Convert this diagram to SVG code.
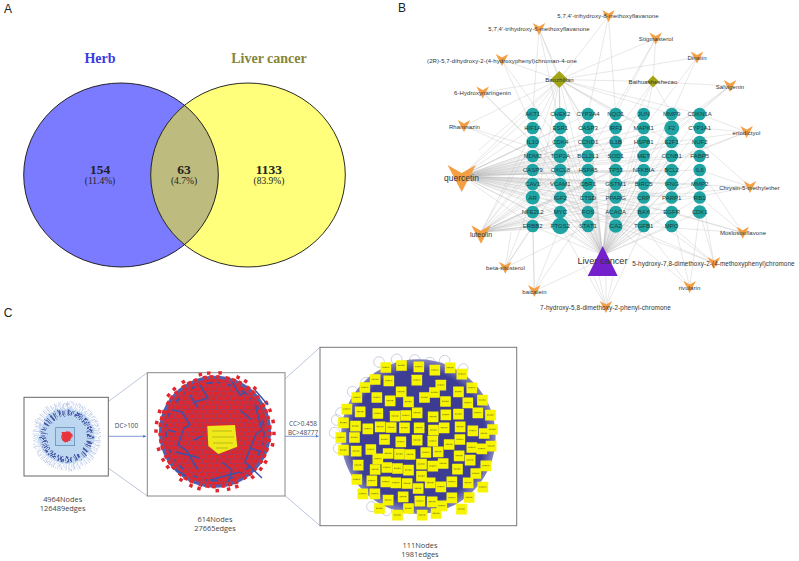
<svg xmlns="http://www.w3.org/2000/svg" width="799" height="561" viewBox="0 0 799 561">
<style>
text{font-family:"Liberation Sans",Arial,sans-serif;text-anchor:middle;fill:#333}
.panel{font-size:12px;fill:#222}
.v{font-family:"Liberation Serif",serif;font-weight:bold;fill:#222}
.n{font-size:13.5px}.p{font-size:9.5px;font-weight:normal}
.t{font-size:6px;fill:#1d3b3b}.h{font-size:6px;letter-spacing:.08px}
.cap{font-family:"Open Sans",sans-serif;font-size:7.4px;fill:#444}
.lab{font-family:"Open Sans",sans-serif;font-size:6.4px;fill:#445}
.e{fill:none;stroke:#b8b8b8;stroke-width:.45;stroke-opacity:.72}
.tn{fill:#1fa3a3}.vee{fill:#f59f45}.dm{fill:#a3a517}
.box{fill:#fff;stroke:#666;stroke-width:1}
.zoomline{stroke:#9fadcb;stroke-width:.7;fill:none}
.arr{stroke:#4472c4;stroke-width:.7;fill:none;marker-end:url(#ah)}
</style>
<defs>
<marker id="ah" markerWidth="5" markerHeight="5" refX="4" refY="2" orient="auto"><path d="M0 0L4 2L0 4z" fill="#4472c4"/></marker>
<polygon id="veeS" class="vee" points="-6.3,-6 0,-2.4 6.3,-6 0,6"/>
<g id="y"><rect x="-15.500" y="-15.500" width="32" height="32" rx="1" fill="#f7f400"/><path d="M-10 0H11" stroke="#88881c" stroke-width="3" stroke-dasharray="3 1"/></g>
<pattern id="reds" width="7" height="9" patternUnits="userSpaceOnUse"><rect width="7" height="9" fill="#a93b58"/><rect x=".3" y=".4" width="5.6" height="3.5" fill="#e0262c"/><rect x="3.8" y="4.9" width="5.6" height="3.5" fill="#e0262c"/><rect x="-3.200" y="4.9" width="5.6" height="3.5" fill="#e0262c"/></pattern>
<radialGradient id="blob"><stop offset="0" stop-color="#38388f"/><stop offset=".86" stop-color="#3e3e96"/><stop offset="1" stop-color="#8585bf"/></radialGradient>
<filter id="rough" x="-20%" y="-20%" width="140%" height="140%"><feTurbulence type="fractalNoise" baseFrequency=".22" numOctaves="2" seed="4" result="n"/><feDisplacementMap in="SourceGraphic" in2="n" scale="5"/><feGaussianBlur stdDeviation=".3"/></filter>
<filter id="soft" x="-5%" y="-5%" width="110%" height="110%"><feGaussianBlur stdDeviation=".35"/></filter>
</defs>

<g id="panel-a">
<text class="panel" x="8" y="13">A</text>
<ellipse cx="121" cy="175" rx="97.3" ry="92" fill="#7b7bff"/>
<ellipse cx="248" cy="175" rx="97.3" ry="92" fill="#ffff7b"/>
<path d="M184.500 105.100A97.300 92 0 0 1 184.500 244.900A97.300 92 0 0 1 184.500 105.100z" fill="#bdbb7d"/>
<ellipse cx="121" cy="175" rx="97.300" ry="92" fill="none" stroke="#111" stroke-width=".9"/>
<ellipse cx="248" cy="175" rx="97.300" ry="92" fill="none" stroke="#111" stroke-width=".9"/>
<text class="v" x="100" y="63" font-size="14" style="fill:#3a3ae0">Herb</text>
<text class="v" x="269" y="63" font-size="14" style="fill:#85853a">Liver cancer</text>
<text class="v n" x="100" y="174">154</text><text class="v p" x="100" y="184">(11.4%)</text>
<text class="v n" x="184" y="174">63</text><text class="v p" x="184" y="184">(4.7%)</text>
<text class="v n" x="269" y="174">1133</text><text class="v p" x="269" y="184">(83.9%)</text>
</g>

<text class="panel" x="402" y="12">B</text>
<g id="connectors-network">
<path class="e" d="M602.700 255L532.700 114M602.700 255L560.300 114M602.700 255L588 114M602.700 255L615.700 114M602.700 255L643.700 114M602.700 255L671.700 114M602.700 255L699.700 114M602.700 255L532.700 128M602.700 255L560.300 128M602.700 255L588 128M602.700 255L615.700 128M602.700 255L643.700 128M602.700 255L671.700 128M602.700 255L699.700 128M602.700 255L532.700 142M602.700 255L560.300 142M602.700 255L588 142M602.700 255L615.700 142M602.700 255L643.700 142M602.700 255L671.700 142M602.700 255L699.700 142M602.700 255L532.700 156M602.700 255L560.300 156M602.700 255L588 156M602.700 255L615.700 156M602.700 255L643.700 156M602.700 255L671.700 156M602.700 255L699.700 156M602.700 255L532.700 170M602.700 255L560.300 170M602.700 255L588 170M602.700 255L615.700 170M602.700 255L643.700 170M602.700 255L671.700 170M602.700 255L699.700 170M602.700 255L532.700 184M602.700 255L560.300 184M602.700 255L588 184M602.700 255L615.700 184M602.700 255L643.700 184M602.700 255L671.700 184M602.700 255L699.700 184M602.700 255L532.700 197.500M602.700 255L560.300 197.500M602.700 255L588 197.500M602.700 255L615.700 197.500M602.700 255L643.700 197.500M602.700 255L671.700 197.500M602.700 255L699.700 197.500M602.700 255L532.700 212M602.700 255L560.300 212M602.700 255L588 212M602.700 255L615.700 212M602.700 255L643.700 212M602.700 255L671.700 212M602.700 255L699.700 212M602.700 255L532.700 226M602.700 255L560.300 226M602.700 255L588 226M602.700 255L615.700 226M602.700 255L643.700 226M602.700 255L671.700 226"/>
<path class="e" d="M461.700 176L532.700 114M461.700 176L560.300 128M461.700 176L588 114M461.700 176L615.700 128M461.700 176L643.700 114M461.700 176L671.700 128M461.700 176L699.700 114M461.700 176L532.700 128M461.700 176L532.700 142M461.700 176L560.300 142M461.700 176L588 142M461.700 176L615.700 142M461.700 176L643.700 142M461.700 176L671.700 142M461.700 176L699.700 142M461.700 176L532.700 156M461.700 176L560.300 156M461.700 176L588 156M461.700 176L615.700 156M461.700 176L643.700 156M461.700 176L671.700 156M461.700 176L699.700 156M461.700 176L532.700 170M461.700 176L560.300 170M461.700 176L588 170M461.700 176L615.700 170M461.700 176L643.700 170M461.700 176L671.700 170M461.700 176L699.700 170M461.700 176L532.700 184M461.700 176L560.300 184M461.700 176L588 184M461.700 176L615.700 184M461.700 176L643.700 184M461.700 176L671.700 184M461.700 176L699.700 184M461.700 176L532.700 197.500M461.700 176L560.300 197.500M461.700 176L588 197.500M461.700 176L615.700 197.500M461.700 176L643.700 197.500M461.700 176L671.700 197.500M461.700 176L699.700 197.500M461.700 176L532.700 212M461.700 176L560.300 212M461.700 176L588 212M461.700 176L615.700 212M461.700 176L643.700 212M461.700 176L671.700 212M461.700 176L532.700 226M461.700 176L560.300 226M461.700 176L588 226M461.700 176L615.700 226M461.700 176L643.700 226"/>
<path class="e" d="M481 232L532.700 142M481 232L560.300 128M481 232L532.700 170M481 232L560.300 170M481 232L588 156M481 232L615.700 170M481 232L643.700 156M481 232L671.700 170M481 232L532.700 184M481 232L560.300 184M481 232L588 184M481 232L615.700 197.500M481 232L643.700 184M481 232L532.700 197.500M481 232L560.300 197.500M481 232L588 212M481 232L643.700 212M481 232L532.700 212M481 232L560.300 212M481 232L532.700 226M481 232L560.300 226M481 232L588 226M481 232L671.700 212M481 232L699.700 184"/>
<path class="e" d="M559.300 79.500L532.700 114M559.300 79.500L560.300 114M559.300 79.500L588 128M559.300 79.500L615.700 114M559.300 79.500L643.700 128M559.300 79.500L671.700 114M559.300 79.500L699.700 114M559.300 79.500L532.700 156M559.300 79.500L560.300 184M559.300 79.500L588 197.500M559.300 79.500L615.700 170M559.300 79.500L532.700 226M559.300 79.500L560.300 226M559.300 79.500L479 150M559.300 79.500L461.700 176M559.300 79.500L653 81.500M559.300 79.500L502 60M559.300 79.500L539 29M559.300 79.500L608.500 16M559.300 79.500L655.700 38.500M559.300 79.500L697 57.500M559.300 79.500L482.700 92.500M559.300 79.500L464 126M559.300 79.500L481 232M559.300 79.500L671.700 142"/>
<path class="e" d="M653 81.500L655.700 38.500M653 81.500L730 86M653 81.500L643.700 128M653 81.500L615.700 156M653 81.500L671.700 114M653 81.500L588 170"/>
<path class="e" d="M608.500 16L588 114M608.500 16L615.700 114M539 29L532.700 114M539 29L560.300 128M539 29L588 142M655.700 38.500L615.700 114M655.700 38.500L588 156M697 57.500L643.700 128M697 57.500L671.700 114M502 60L532.700 128M502 60L560.300 142M730 86L671.700 128M730 86L643.700 156M730 86L615.700 184M482.700 92.500L532.700 142M482.700 92.500L560.300 170M464 126L532.700 156M464 126L560.300 156M746.700 132L699.700 114M746.700 132L699.700 128M746.700 132L671.700 142M746.700 132L643.700 170M746.700 132L615.700 184"/>
<path class="e" d="M750 187L699.700 170M750 187L671.700 184M750 187L643.700 197.500M750 187L615.700 212M750 187L699.700 142M742.700 232.700L699.700 197.500M742.700 232.700L671.700 212M742.700 232.700L643.700 226M742.700 232.700L699.700 170M742.700 232.700L615.700 197.500M714 263L699.700 212M714 263L671.700 226M714 263L643.700 212M714 263L615.700 226M714 263L699.700 184M714 263L560.300 197.500M689.700 287L699.700 212M689.700 287L671.700 212M689.700 287L643.700 226M689.700 287L615.700 226"/>
<path class="e" d="M606 307L592 272M606 307L598 272M606 307L606 272M606 307L614 272M606 307L560.300 226M606 307L643.700 226M534.300 291L532.700 226M534.300 291L560.300 226M534.300 291L588 212M534.300 291L596 262M534.300 291L532.700 212M505.300 267.700L532.700 197.500M505.300 267.700L532.700 226M505.300 267.700L560.300 184M505.300 267.700L588 226M505.300 267.700L511 232"/>
</g>

<g id="target-nodes">
<g id="n-AKT1"><circle class="tn" cx="532.700" cy="114" r="6.300"/><text class="t" x="532.700" y="116">AKT1</text></g>
<g id="n-CHEK2"><circle class="tn" cx="560.300" cy="114" r="6.300"/><text class="t" x="560.300" y="116">CHEK2</text></g>
<g id="n-CYP3A4"><circle class="tn" cx="588" cy="114" r="6.300"/><text class="t" x="588" y="116">CYP3A4</text></g>
<g id="n-NQO1"><circle class="tn" cx="615.700" cy="114" r="6.300"/><text class="t" x="615.700" y="116">NQO1</text></g>
<g id="n-JUN"><circle class="tn" cx="643.700" cy="114" r="6.300"/><text class="t" x="643.700" y="116">JUN</text></g>
<g id="n-MMP9"><circle class="tn" cx="671.700" cy="114" r="6.300"/><text class="t" x="671.700" y="116">MMP9</text></g>
<g id="n-CDKN1A"><circle class="tn" cx="699.700" cy="114" r="6.300"/><text class="t" x="699.700" y="116">CDKN1A</text></g>
<g id="n-HIF1A"><circle class="tn" cx="532.700" cy="128" r="6.300"/><text class="t" x="532.700" y="130">HIF1A</text></g>
<g id="n-ESR1"><circle class="tn" cx="560.300" cy="128" r="6.300"/><text class="t" x="560.300" y="130">ESR1</text></g>
<g id="n-CASP3"><circle class="tn" cx="588" cy="128" r="6.300"/><text class="t" x="588" y="130">CASP3</text></g>
<g id="n-IRF1"><circle class="tn" cx="615.700" cy="128" r="6.300"/><text class="t" x="615.700" y="130">IRF1</text></g>
<g id="n-MAPK1"><circle class="tn" cx="643.700" cy="128" r="6.300"/><text class="t" x="643.700" y="130">MAPK1</text></g>
<g id="n-F2"><circle class="tn" cx="671.700" cy="128" r="7.500"/><text class="t" x="671.700" y="130">F2</text></g>
<g id="n-CYP1A1"><circle class="tn" cx="699.700" cy="128" r="6.300"/><text class="t" x="699.700" y="130">CYP1A1</text></g>
<g id="n-IL10"><circle class="tn" cx="532.700" cy="142" r="6.300"/><text class="t" x="532.700" y="144">IL10</text></g>
<g id="n-CDK4"><circle class="tn" cx="560.300" cy="142" r="6.300"/><text class="t" x="560.300" y="144">CDK4</text></g>
<g id="n-CCND1"><circle class="tn" cx="588" cy="142" r="6.300"/><text class="t" x="588" y="144">CCND1</text></g>
<g id="n-IL1B"><circle class="tn" cx="615.700" cy="142" r="6.300"/><text class="t" x="615.700" y="144">IL1B</text></g>
<g id="n-HSPB1"><circle class="tn" cx="643.700" cy="142" r="6.300"/><text class="t" x="643.700" y="144">HSPB1</text></g>
<g id="n-E2F1"><circle class="tn" cx="671.700" cy="142" r="6.300"/><text class="t" x="671.700" y="144">E2F1</text></g>
<g id="n-NUF2"><circle class="tn" cx="699.700" cy="142" r="6.300"/><text class="t" x="699.700" y="144">NUF2</text></g>
<g id="n-MDM2"><circle class="tn" cx="532.700" cy="156" r="6.300"/><text class="t" x="532.700" y="158">MDM2</text></g>
<g id="n-TOP2A"><circle class="tn" cx="560.300" cy="156" r="7"/><text class="t" x="560.300" y="158">TOP2A</text></g>
<g id="n-BCL2L1"><circle class="tn" cx="588" cy="156" r="6.300"/><text class="t" x="588" y="158">BCL2L1</text></g>
<g id="n-SOD1"><circle class="tn" cx="615.700" cy="156" r="6.300"/><text class="t" x="615.700" y="158">SOD1</text></g>
<g id="n-MET"><circle class="tn" cx="643.700" cy="156" r="6.300"/><text class="t" x="643.700" y="158">MET</text></g>
<g id="n-CCNB1"><circle class="tn" cx="671.700" cy="156" r="6.300"/><text class="t" x="671.700" y="158">CCNB1</text></g>
<g id="n-FABP5"><circle class="tn" cx="699.700" cy="156" r="6.300"/><text class="t" x="699.700" y="158">FABP5</text></g>
<g id="n-CASP9"><circle class="tn" cx="532.700" cy="170" r="6.300"/><text class="t" x="532.700" y="172">CASP9</text></g>
<g id="n-CXCL8"><circle class="tn" cx="560.300" cy="170" r="6.300"/><text class="t" x="560.300" y="172">CXCL8</text></g>
<g id="n-HSPA5"><circle class="tn" cx="588" cy="170" r="6.300"/><text class="t" x="588" y="172">HSPA5</text></g>
<g id="n-TP53"><circle class="tn" cx="615.700" cy="170" r="6.300"/><text class="t" x="615.700" y="172">TP53</text></g>
<g id="n-NFKBIA"><circle class="tn" cx="643.700" cy="170" r="6.300"/><text class="t" x="643.700" y="172">NFKBIA</text></g>
<g id="n-BCL2"><circle class="tn" cx="671.700" cy="170" r="6.300"/><text class="t" x="671.700" y="172">BCL2</text></g>
<g id="n-IL6"><circle class="tn" cx="699.700" cy="170" r="6.300"/><text class="t" x="699.700" y="172">IL6</text></g>
<g id="n-CAV1"><circle class="tn" cx="532.700" cy="184" r="6.300"/><text class="t" x="532.700" y="186">CAV1</text></g>
<g id="n-VCAM1"><circle class="tn" cx="560.300" cy="184" r="6.300"/><text class="t" x="560.300" y="186">VCAM1</text></g>
<g id="n-CBR1"><circle class="tn" cx="588" cy="184" r="6.300"/><text class="t" x="588" y="186">CBR1</text></g>
<g id="n-GSTM1"><circle class="tn" cx="615.700" cy="184" r="6.300"/><text class="t" x="615.700" y="186">GSTM1</text></g>
<g id="n-BIRC5"><circle class="tn" cx="643.700" cy="184" r="6.300"/><text class="t" x="643.700" y="186">BIRC5</text></g>
<g id="n-IFNG"><circle class="tn" cx="671.700" cy="184" r="6.300"/><text class="t" x="671.700" y="186">IFNG</text></g>
<g id="n-MMP2"><circle class="tn" cx="699.700" cy="184" r="6.300"/><text class="t" x="699.700" y="186">MMP2</text></g>
<g id="n-AR"><circle class="tn" cx="532.700" cy="197.500" r="7"/><text class="t" x="532.700" y="199.500">AR</text></g>
<g id="n-IGF2"><circle class="tn" cx="560.300" cy="197.500" r="6.300"/><text class="t" x="560.300" y="199.500">IGF2</text></g>
<g id="n-CTSD"><circle class="tn" cx="588" cy="197.500" r="6.300"/><text class="t" x="588" y="199.500">CTSD</text></g>
<g id="n-PPARG"><circle class="tn" cx="615.700" cy="197.500" r="6.300"/><text class="t" x="615.700" y="199.500">PPARG</text></g>
<g id="n-CRP"><circle class="tn" cx="643.700" cy="197.500" r="6.300"/><text class="t" x="643.700" y="199.500">CRP</text></g>
<g id="n-PARP1"><circle class="tn" cx="671.700" cy="197.500" r="6.300"/><text class="t" x="671.700" y="199.500">PARP1</text></g>
<g id="n-RB1"><circle class="tn" cx="699.700" cy="197.500" r="6.300"/><text class="t" x="699.700" y="199.500">RB1</text></g>
<g id="n-NFE2L2"><circle class="tn" cx="532.700" cy="212" r="6.300"/><text class="t" x="532.700" y="214">NFE2L2</text></g>
<g id="n-MYC"><circle class="tn" cx="560.300" cy="212" r="6.300"/><text class="t" x="560.300" y="214">MYC</text></g>
<g id="n-FOS"><circle class="tn" cx="588" cy="212" r="6.300"/><text class="t" x="588" y="214">FOS</text></g>
<g id="n-ACACA"><circle class="tn" cx="615.700" cy="212" r="6.300"/><text class="t" x="615.700" y="214">ACACA</text></g>
<g id="n-BAX"><circle class="tn" cx="643.700" cy="212" r="6.300"/><text class="t" x="643.700" y="214">BAX</text></g>
<g id="n-EGFR"><circle class="tn" cx="671.700" cy="212" r="6.300"/><text class="t" x="671.700" y="214">EGFR</text></g>
<g id="n-CDK1"><circle class="tn" cx="699.700" cy="212" r="6.800"/><text class="t" x="699.700" y="214">CDK1</text></g>
<g id="n-ERBB2"><circle class="tn" cx="532.700" cy="226" r="6.300"/><text class="t" x="532.700" y="228">ERBB2</text></g>
<g id="n-PTGS2"><circle class="tn" cx="560.300" cy="226" r="8.300"/><text class="t" x="560.300" y="228">PTGS2</text></g>
<g id="n-STAT1"><circle class="tn" cx="588" cy="226" r="6.300"/><text class="t" x="588" y="228">STAT1</text></g>
<g id="n-CA2"><circle class="tn" cx="615.700" cy="226" r="6.800"/><text class="t" x="615.700" y="228">CA2</text></g>
<g id="n-TGFB1"><circle class="tn" cx="643.700" cy="226" r="6.300"/><text class="t" x="643.700" y="228">TGFB1</text></g>
<g id="n-MPO"><circle class="tn" cx="671.700" cy="226" r="6.300"/><text class="t" x="671.700" y="228">MPO</text></g>
</g>

<g id="herb-nodes">
<g id="h1"><use href="#veeS" x="608.500" y="16"/><text class="h" x="608" y="18">5,7,4'-trihydroxy-8-methoxyflavanone</text></g>
<g id="h2"><use href="#veeS" x="539" y="29"/><text class="h" x="539" y="31">5,7,4'-trihydroxy-6-methoxyflavanone</text></g>
<g id="h3"><use href="#veeS" x="655.700" y="38.500"/><text class="h" x="656" y="41">Stigmasterol</text></g>
<g id="h4"><use href="#veeS" x="697" y="57.500"/><text class="h" x="697" y="60">Dinatin</text></g>
<g id="h5"><use href="#veeS" x="502" y="60"/><text class="h" x="502" y="62.500">(2R)-5,7-dihydroxy-2-(4-hydroxyphenyl)chroman-4-one</text></g>
<g id="h6"><polygon class="dm" points="559.300,71 568,79.500 559.300,88 550.600,79.500"/><text class="h" x="559.500" y="82">Banzhilian</text></g>
<g id="h7"><polygon class="dm" points="653,75.500 659,81.500 653,87.500 647,81.500"/><text class="h" x="653" y="84">Baihuasheshecao</text></g>
<g id="h8"><use href="#veeS" x="730" y="86"/><text class="h" x="730" y="88.500">Salvigenin</text></g>
<g id="h9"><use href="#veeS" x="482.700" y="92.500"/><text class="h" x="482.500" y="95">6-Hydroxynaringenin</text></g>
<g id="h10"><use href="#veeS" x="464" y="126"/><text class="h" x="464.500" y="128.500">Rhamnazin</text></g>
<g id="h11"><use href="#veeS" x="746.700" y="132"/><text class="h" x="746.500" y="134.500">eriodictyol</text></g>
<g id="h12"><use href="#veeS" transform="translate(461.700 178.500) scale(2.250)"/><text x="461.500" y="181" font-size="8.500">quercetin</text></g>
<g id="h13"><use href="#veeS" x="750" y="187"/><text class="h" x="749.500" y="189.500">Chrysin-5-methylether</text></g>
<g id="h14"><use href="#veeS" x="742.700" y="232.700"/><text class="h" x="743" y="235">Moslosooflavone</text></g>
<g id="h15"><use href="#veeS" transform="translate(481 234.500) scale(1.550)"/><text x="481" y="237" font-size="7">luteolin</text></g>
<g id="h16"><use href="#veeS" x="505.300" y="267.700"/><text class="h" x="505.500" y="270">beta-sitosterol</text></g>
<g id="h17"><use href="#veeS" x="714" y="263"/><text class="h" x="713.500" y="265.500" style="font-size:6.350px">5-hydroxy-7,8-dimethoxy-2-(4-methoxyphenyl)chromone</text></g>
<g id="h18"><use href="#veeS" x="689.700" y="287"/><text class="h" x="689.500" y="289.500">rivularin</text></g>
<g id="h19"><use href="#veeS" x="534.300" y="291"/><text class="h" x="534.500" y="293.500">baicalein</text></g>
<g id="h20"><use href="#veeS" x="606" y="307"/><text class="h" x="605.500" y="309.500" style="font-size:6.400px">7-hydroxy-5,8-dimethoxy-2-phenyl-chromone</text></g>
<g id="liver"><polygon points="602.700,246 617.700,276 587.700,276" fill="#7420cc"/><text x="602.500" y="264" font-size="9.200">Liver cancer</text></g>
</g>

<text class="panel" x="8" y="317">C</text>
<g id="connectors-c">
<path class="zoomline" d="M90 415L147.300 372.700M90 455L147.300 496M261.700 400L320 347.300M263 476.700L320 525.700"/>
<path class="arr" d="M108.300 436.300H146"/>
<path class="arr" d="M285 436.300H318.500"/>
</g>
<g id="net-1">
<rect class="box" x="24" y="397.300" width="84.300" height="78.700"/>
<g filter="url(#rough)">
<circle cx="66.700" cy="436" r="29" fill="none" stroke="#c0cdea" stroke-width="11" stroke-dasharray=".9 .9 .5 1.500"/>
<circle cx="66.700" cy="436" r="28" fill="#bcd7ef"/>
<circle cx="66.700" cy="436" r="23.500" fill="none" stroke="#4a56a6" stroke-width="6" stroke-dasharray="1.200 1 .6 2.600 1.800 1.600"/>
</g>
<rect x="55.700" y="427.700" width="19" height="18" fill="#b5d3ee" stroke="#4a78a8" stroke-width=".6"/>
<circle cx="67" cy="437" r="5.800" fill="#e8353c" filter="url(#rough)"/>
<text class="cap" x="62.700" y="501.500">4964Nodes</text>
<text class="cap" x="62.700" y="510.500">126489edges</text>
<text class="lab" x="126.500" y="428">DC&gt;100</text>
</g>
<g id="net-2">
<rect class="box" x="147.300" y="372.700" width="137.700" height="123.300" stroke-width="1.300" style="stroke:#888"/>
<g filter="url(#soft)">
<circle cx="215" cy="431.700" r="56" fill="#5060b0"/>
<circle cx="215" cy="431.700" r="53" fill="url(#reds)"/>
<circle cx="215" cy="431.700" r="49" fill="none" stroke="#3f51a8" stroke-width="1.800" stroke-dasharray="6 5 2 8 4 12"/>
<circle cx="215" cy="431.700" r="55" fill="none" stroke="#e1282e" stroke-width="3.500" stroke-dasharray="4 3 3.500 6 4 2.500"/>
<circle cx="215" cy="431.700" r="59" fill="none" stroke="#e1282e" stroke-width="3.500" stroke-dasharray="3.500 8 3.500 15 3.500 5"/>
<path d="M172 410L182 412L190 425L184 428L178 445L186 450L198 470M255 405L262 430L256 434L245 462L262 478M200 385L208 398L195 402M232 382L240 395L246 392M176 452L200 458M210 480L240 472M255 390L268 405M168 430L176 432M190 395L198 408M240 410L252 420M222 462L232 470L228 482M194 440L202 436M250 448L262 452M176 470L186 476" fill="none" stroke="#3f51a8" stroke-width="1.500"/>
<polygon points="207.300,426 235,425 237.300,446.700 218.300,454 208.300,446" fill="#efe91a"/>
<path d="M212 431H232M212 437H234M213 443H233M216 448H228" stroke="#6f6f10" stroke-width=".4"/>
</g>
<text class="cap" x="215" y="521.500">614Nodes</text>
<text class="cap" x="215" y="530.500">27665edges</text>
<text class="lab" x="303" y="426">CC&gt;0.458</text>
<text class="lab" x="303" y="435">BC&gt;48777</text>
</g>
<g id="net-3">
<rect class="box" x="320" y="347.300" width="196.700" height="178.400" style="stroke:#777"/>
<g transform="translate(290 340) scale(.3333)" filter="url(#soft)">
<g fill="none" stroke="#b4b8d0" stroke-width="2">
<circle cx="267" cy="66" r="16"/><circle cx="320" cy="58" r="16"/><circle cx="374" cy="60" r="16"/><circle cx="420" cy="68" r="16"/><circle cx="464" cy="62" r="16"/><circle cx="228" cy="128" r="16"/><circle cx="188" cy="155" r="16"/><circle cx="152" cy="218" r="15"/><circle cx="140" cy="240" r="16"/><circle cx="134" cy="278" r="16"/><circle cx="145" cy="325" r="15"/><circle cx="245" cy="500" r="15"/><circle cx="290" cy="512" r="15"/><circle cx="520" cy="85" r="14"/>
</g>
<circle cx="385" cy="290" r="232" fill="url(#blob)"/>
<use href="#y" x="287" y="82"/><use href="#y" x="334" y="76"/><use href="#y" x="386" y="80"/><use href="#y" x="434" y="90"/><use href="#y" x="480" y="83"/><use href="#y" x="515" y="102"/><use href="#y" x="255" y="118"/><use href="#y" x="296" y="122"/><use href="#y" x="380" y="120"/><use href="#y" x="224" y="142"/><use href="#y" x="452" y="135"/><use href="#y" x="545" y="143"/><use href="#y" x="333" y="155"/><use href="#y" x="433" y="157"/><use href="#y" x="505" y="155"/><use href="#y" x="200" y="172"/><use href="#y" x="260" y="172"/><use href="#y" x="300" y="182"/><use href="#y" x="355" y="185"/><use href="#y" x="403" y="172"/><use href="#y" x="466" y="184"/><use href="#y" x="533" y="188"/><use href="#y" x="577" y="180"/><use href="#y" x="170" y="207"/><use href="#y" x="210" y="215"/><use href="#y" x="263" y="220"/><use href="#y" x="315" y="228"/><use href="#y" x="347" y="226"/><use href="#y" x="381" y="218"/><use href="#y" x="429" y="230"/><use href="#y" x="467" y="224"/><use href="#y" x="505" y="222"/><use href="#y" x="563" y="218"/><use href="#y" x="601" y="225"/><use href="#y" x="160" y="248"/><use href="#y" x="196" y="258"/><use href="#y" x="233" y="266"/><use href="#y" x="270" y="260"/><use href="#y" x="303" y="262"/><use href="#y" x="343" y="263"/><use href="#y" x="387" y="263"/><use href="#y" x="430" y="270"/><use href="#y" x="462" y="263"/><use href="#y" x="510" y="260"/><use href="#y" x="548" y="272"/><use href="#y" x="582" y="280"/><use href="#y" x="607" y="268"/><use href="#y" x="152" y="292"/><use href="#y" x="193" y="292"/><use href="#y" x="283" y="298"/><use href="#y" x="332" y="305"/><use href="#y" x="381" y="300"/><use href="#y" x="428" y="303"/><use href="#y" x="509" y="298"/><use href="#y" x="477" y="313"/><use href="#y" x="160" y="330"/><use href="#y" x="198" y="333"/><use href="#y" x="242" y="328"/><use href="#y" x="294" y="340"/><use href="#y" x="328" y="342"/><use href="#y" x="360" y="343"/><use href="#y" x="407" y="337"/><use href="#y" x="444" y="335"/><use href="#y" x="545" y="322"/><use href="#y" x="575" y="326"/><use href="#y" x="603" y="318"/><use href="#y" x="263" y="356"/><use href="#y" x="507" y="347"/><use href="#y" x="540" y="360"/><use href="#y" x="204" y="375"/><use href="#y" x="290" y="382"/><use href="#y" x="322" y="385"/><use href="#y" x="355" y="390"/><use href="#y" x="394" y="372"/><use href="#y" x="428" y="378"/><use href="#y" x="459" y="370"/><use href="#y" x="502" y="387"/><use href="#y" x="587" y="377"/><use href="#y" x="255" y="388"/><use href="#y" x="394" y="408"/><use href="#y" x="557" y="400"/><use href="#y" x="200" y="418"/><use href="#y" x="245" y="422"/><use href="#y" x="287" y="425"/><use href="#y" x="317" y="428"/><use href="#y" x="351" y="430"/><use href="#y" x="420" y="428"/><use href="#y" x="452" y="440"/><use href="#y" x="485" y="425"/><use href="#y" x="534" y="428"/><use href="#y" x="578" y="441"/><use href="#y" x="384" y="445"/><use href="#y" x="218" y="461"/><use href="#y" x="254" y="461"/><use href="#y" x="294" y="480"/><use href="#y" x="339" y="470"/><use href="#y" x="389" y="483"/><use href="#y" x="426" y="485"/><use href="#y" x="485" y="473"/><use href="#y" x="537" y="472"/><use href="#y" x="268" y="505"/><use href="#y" x="355" y="505"/><use href="#y" x="455" y="497"/><use href="#y" x="514" y="507"/><use href="#y" x="322" y="525"/><use href="#y" x="396" y="525"/><use href="#y" x="438" y="520"/>
</g>
<text class="cap" x="420" y="547.500">111Nodes</text>
<text class="cap" x="420" y="556.500">1981edges</text>
</g>
</svg>
